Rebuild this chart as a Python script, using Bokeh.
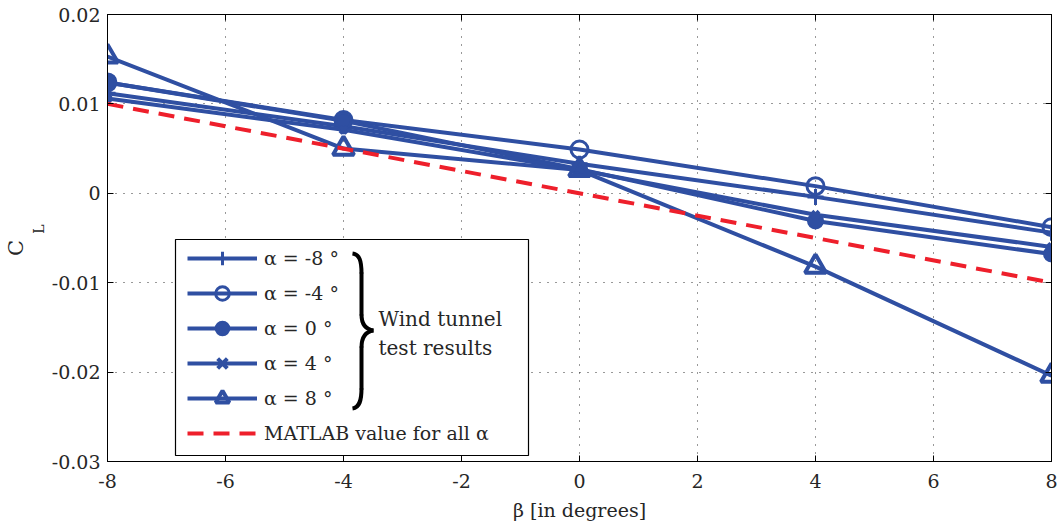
from bokeh.plotting import figure
from bokeh.models import (Range1d, FixedTicker, LinearAxis, Legend, LegendItem, Label,
                          CustomJSTickFormatter)
from bokeh.embed import file_html
from bokeh.resources import INLINE

# ---------------- data ----------------
beta = [-8, -4, 0, 4, 8]
cl_alpha_m8 = [0.0112, 0.0075, 0.0033, -0.0004, -0.0044]
cl_alpha_m4 = [0.0124, 0.0082, 0.0049, 0.0008, -0.0038]
cl_alpha_0 = [0.0124, 0.0081, 0.0027, -0.0031, -0.0068]
cl_alpha_4 = [0.0106, 0.0071, 0.0026, -0.0024, -0.0060]
cl_alpha_8 = [0.0153, 0.0050, 0.0026, -0.0082, -0.0204]
matlab_beta = [-8, 8]
matlab_cl = [0.010, -0.010]

labels = ["α = -8 °", "α = -4 °", "α = 0 °", "α = 4 °", "α = 8 °"]
matlab_label = "MATLAB value for all α"
x_ticks = [-8, -6, -4, -2, 0, 2, 4, 6, 8]
x_tick_text = ["-8", "-6", "-4", "-2", "0", "2", "4", "6", "8"]
y_ticks = [-0.03, -0.02, -0.01, 0.0, 0.01, 0.02]
y_tick_text = ["-0.03", "-0.02", "-0.01", "0", "0.01", "0.02"]

FONT = "DejaVu Serif"
TXT = "#262626"
BLUE = "#2f4fa2"
RED = "#ee1f2b"
NB = "\u00a0"

p = figure(width=1058, height=528, output_backend="svg", toolbar_location=None,
           x_range=Range1d(-8, 8), y_range=Range1d(-0.03, 0.02),
           min_border_left=107, min_border_right=7, min_border_top=14, min_border_bottom=67)
p.background_fill_color = "white"
p.border_fill_color = "white"
p.outline_line_color = "black"
p.outline_line_width = 1

# frame position on page (used only to place the legend decorations)
FX0, FX1, FY0, FY1 = 107, 1051, 14, 461
def dx(px):
    return -8 + (px - FX0) * 16 / (FX1 - FX0)
def dy(py):
    return 0.02 - (py - FY0) * 0.05 / (FY1 - FY0)

# axes
xa = p.xaxis[0]
ya = p.yaxis[0]
xa.ticker = FixedTicker(ticks=x_ticks)
ya.ticker = FixedTicker(ticks=y_ticks)
xa.major_label_overrides = {t: s for t, s in zip(x_ticks, x_tick_text)}
ya.major_label_overrides = {t: s for t, s in zip(y_ticks, y_tick_text)}
for ax in (xa, ya):
    ax.major_tick_in = 6
    ax.major_tick_out = 0
    ax.minor_tick_line_color = None
    ax.axis_line_color = "black"
    ax.major_tick_line_color = "black"
    ax.major_label_text_font = FONT
    ax.major_label_text_font_size = "19px"
    ax.major_label_text_color = TXT
    ax.axis_label_text_font = FONT
    ax.axis_label_text_font_size = "19px"
    ax.axis_label_text_font_style = "normal"
    ax.axis_label_text_color = TXT
xa.major_label_standoff = 12
xa.axis_label = "β [in degrees]"
xa.axis_label_standoff = 8
ya.major_label_standoff = 7
ya.axis_label = None

blank = CustomJSTickFormatter(code="return ''")
for loc in ("above", "right"):
    ax2 = LinearAxis(ticker=FixedTicker(ticks=x_ticks if loc == "above" else y_ticks),
                     formatter=blank, major_tick_in=6, major_tick_out=0,
                     minor_tick_line_color=None, major_label_standoff=0,
                     axis_line_color="black", major_tick_line_color="black")
    p.add_layout(ax2, loc)

# y axis label C_L: subscript "L" on an inner label-only axis, "C" on an outer one
for txt, size, standoff in ((NB * 4 + "L", "14px", 2), ("C" + NB * 3, "21px", 0)):
    lab_ax = LinearAxis(ticker=FixedTicker(ticks=[]), formatter=blank,
                        axis_line_color=None, major_tick_line_color=None,
                        minor_tick_line_color=None, major_label_standoff=0,
                        axis_label=txt, axis_label_standoff=standoff,
                        axis_label_text_font=FONT, axis_label_text_font_size=size,
                        axis_label_text_font_style="normal", axis_label_text_color=TXT)
    p.add_layout(lab_ax, "left")

# grid
for g in (p.xgrid[0], p.ygrid[0]):
    g.grid_line_color = "#333333"
    g.grid_line_dash = "1 7"
    g.grid_line_width = 1
p.xgrid[0].ticker = FixedTicker(ticks=x_ticks)
p.ygrid[0].ticker = FixedTicker(ticks=y_ticks)

# legend box (white background with black border)
p.quad(left=[dx(175)], right=[dx(528)], top=[dy(239)], bottom=[dy(455)],
       fill_color="white", line_color="black", line_width=1.2)

items = []
series = [cl_alpha_m8, cl_alpha_m4, cl_alpha_0, cl_alpha_4, cl_alpha_8]
markers = [
    dict(marker="cross", size=16, line_width=3, fill_alpha=0),
    dict(marker="circle", size=17, line_width=3, fill_alpha=0),
    dict(marker="circle", size=15, line_width=2, fill_color=BLUE),
    dict(marker="x", size=10, line_width=4, fill_alpha=0),
    dict(marker="triangle", size=21, line_width=4, fill_alpha=0),
]
for ys, lab, mk in zip(series, labels, markers):
    lr = p.line(beta, ys, line_color=BLUE, line_width=4)
    sr = p.scatter(beta, ys, line_color=BLUE, **mk)
    items.append(LegendItem(label=lab, renderers=[lr, sr]))

mr = p.line(matlab_beta, matlab_cl, line_color=RED, line_width=4, line_dash="16 10")
items.append(LegendItem(label=matlab_label, renderers=[mr]))

legend = Legend(items=items, location=(80, 11), margin=0, padding=5, spacing=1,
                glyph_width=70, glyph_height=34, label_height=20, label_standoff=7,
                label_text_font=FONT, label_text_font_size="19px", label_text_color=TXT,
                border_line_color=None, background_fill_alpha=0)
p.add_layout(legend, "center")

# brace
p.bezier(x0=[dx(352), dx(361), dx(373), dx(361)],
         y0=[dy(253), dy(314), dy(330), dy(388)],
         x1=[dx(361), dx(373), dx(361), dx(352)],
         y1=[dy(273), dy(330), dy(347), dy(408)],
         cx0=[dx(359), dx(361), dx(366), dx(361)],
         cy0=[dy(254), dy(324), dy(331), dy(400)],
         cx1=[dx(361), dx(366), dx(361), dx(359)],
         cy1=[dy(260), dy(329), dy(336), dy(407)],
         line_color="black", line_width=4)
p.segment(x0=[dx(361), dx(361)], y0=[dy(272), dy(346)],
          x1=[dx(361), dx(361)], y1=[dy(315), dy(389)],
          line_color="black", line_width=4)

for txt, py in (("Wind tunnel", 318), ("test results", 347)):
    p.add_layout(Label(x=dx(378), y=dy(py), text=txt, text_baseline="middle",
                       text_align="left", text_font=FONT, text_font_size="20px",
                       text_color=TXT))

open("out.html", "w").write(file_html(p, INLINE))
